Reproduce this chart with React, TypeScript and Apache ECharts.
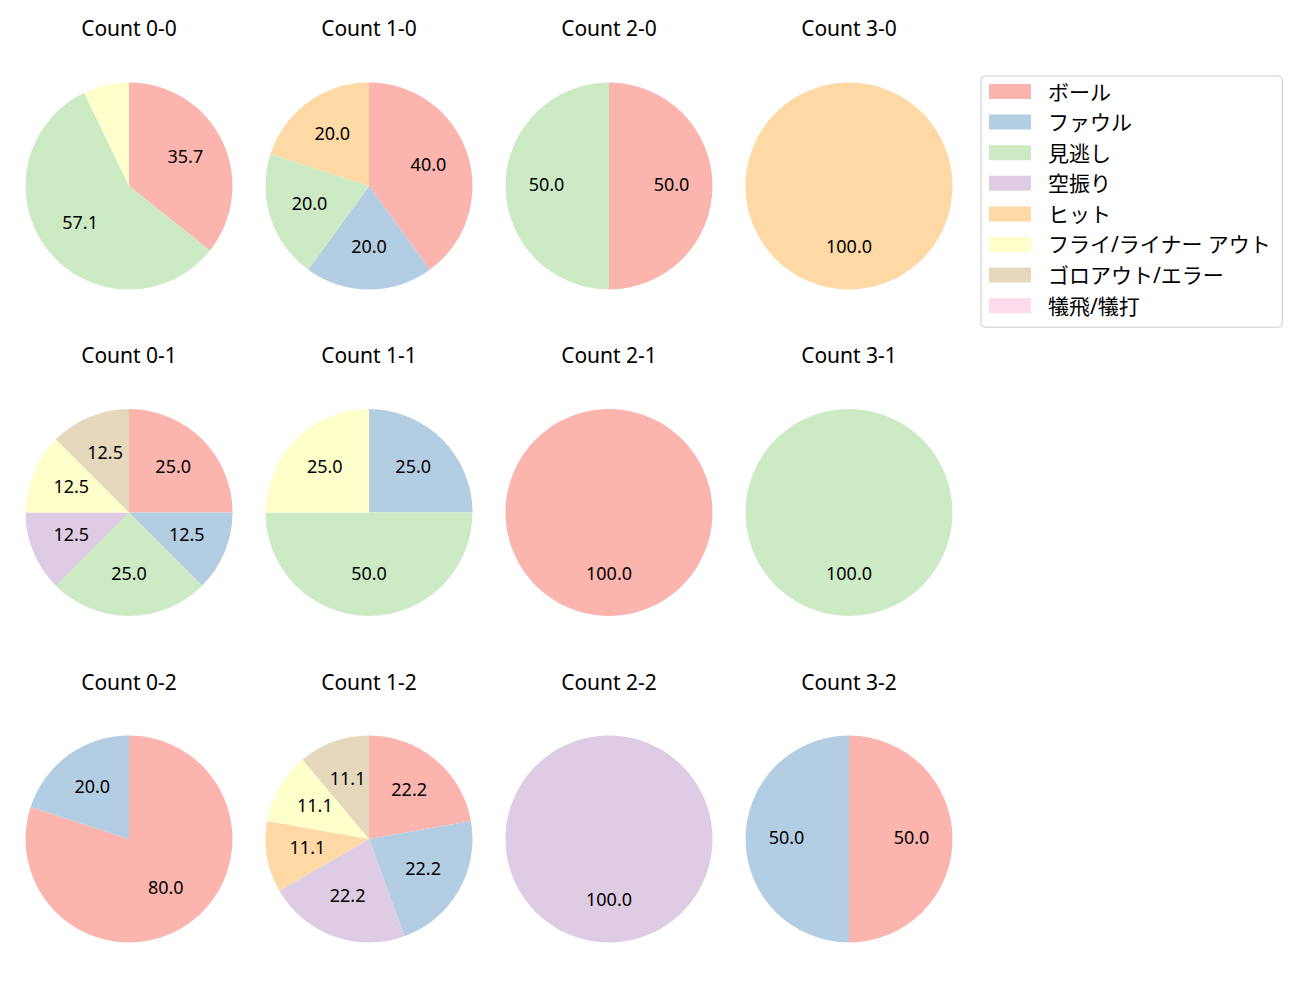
import React, { useEffect, useRef } from "react";
import * as echarts from "echarts";

const categories = [
  "ボール",
  "ファウル",
  "見逃し",
  "空振り",
  "ヒット",
  "フライ/ライナー アウト",
  "ゴロアウト/エラー",
  "犠飛/犠打",
];

const colors = ["#fbb4ae", "#b3cde3", "#ccebc5", "#decbe4", "#fed9a6", "#ffffcc", "#e5d8bd", "#fddaec"];

const titles = [
  "Count 0-0", "Count 1-0", "Count 2-0", "Count 3-0",
  "Count 0-1", "Count 1-1", "Count 2-1", "Count 3-1",
  "Count 0-2", "Count 1-2", "Count 2-2", "Count 3-2",
];

// counts per category (order as categories)
const count00 = [5, 0, 8, 0, 0, 1, 0, 0];
const count10 = [2, 1, 1, 0, 1, 0, 0, 0];
const count20 = [1, 0, 1, 0, 0, 0, 0, 0];
const count30 = [0, 0, 0, 0, 1, 0, 0, 0];
const count01 = [2, 1, 2, 1, 0, 1, 1, 0];
const count11 = [0, 1, 2, 0, 0, 1, 0, 0];
const count21 = [1, 0, 0, 0, 0, 0, 0, 0];
const count31 = [0, 0, 1, 0, 0, 0, 0, 0];
const count02 = [4, 1, 0, 0, 0, 0, 0, 0];
const count12 = [2, 2, 0, 2, 1, 1, 1, 0];
const count22 = [0, 0, 0, 1, 0, 0, 0, 0];
const count32 = [1, 1, 0, 0, 0, 0, 0, 0];

const pies = [
  count00, count10, count20, count30,
  count01, count11, count21, count31,
  count02, count12, count22, count32,
];

const colX = [129, 369, 609, 849];
const rowY = [186, 512.5, 839];
const titleY = [28, 355, 682];
const R = 103.5;
const FONT = "'Noto Sans', 'Noto Sans CJK JP', sans-serif";

export default function App() {
  const ref = useRef<HTMLDivElement>(null);
  useEffect(() => {
    document.body.style.margin = "0";
    const chart = echarts.init(ref.current!, null, { renderer: "svg" });
    const titleOpts: any[] = [];
    const visible: any[] = [];
    const overlay: any[] = [];
    pies.forEach((vals, i) => {
      const c = i % 4;
      const r = Math.floor(i / 4);
      const total = vals.reduce((a, b) => a + b, 0);
      titleOpts.push({
        text: titles[i],
        left: colX[c],
        top: titleY[r] - 11,
        textAlign: "center",
        padding: 0,
        textStyle: { fontSize: 21, fontWeight: "normal", color: "#000", fontFamily: FONT },
      });
      const data = vals.map((v, k) => ({ name: categories[k], value: v, itemStyle: { color: colors[k] } }));
      visible.push({
        type: "pie",
        center: [colX[c], rowY[r]],
        radius: [0, R],
        startAngle: 90,
        clockwise: true,
        silent: true,
        label: { show: false },
        labelLine: { show: false },
        itemStyle: { borderWidth: 0 },
        emphasis: { disabled: true },
        data,
      });
      overlay.push({
        type: "pie",
        center: [colX[c], rowY[r]],
        radius: [0, R * 1.15],
        startAngle: 90,
        clockwise: true,
        silent: true,
        z: 5,
        minShowLabelAngle: 0,
        itemStyle: { color: "transparent", borderWidth: 0 },
        emphasis: { disabled: true },
        labelLine: { show: false },
        label: {
          show: true,
          position: "inside",
          fontSize: 18,
          color: "#000",
          fontFamily: FONT,
          offset: [0, -2.5],
          formatter: (p: any) => {
            const pct = (p.value / total) * 100;
            return pct >= 10 ? pct.toFixed(1) : "";
          },
        },
        data: vals.map((v, k) => ({ name: categories[k], value: v })),
      });
    });
    chart.setOption({
      animation: false,
      backgroundColor: "#fff",
      title: titleOpts,
      legend: {
        orient: "vertical",
        left: 981,
        top: 76,
        data: categories,
        selectedMode: false,
        icon: "rect",
        itemWidth: 42,
        itemHeight: 15,
        itemGap: 9.6,
        padding: [5, 11, 11, 8],
        borderColor: "#cccccc",
        borderWidth: 1,
        borderRadius: 4,
        textStyle: { fontSize: 21, color: "#000", fontFamily: FONT, padding: [0, 0, 0, 12] },
      },
      series: [...visible, ...overlay],
    });
    return () => chart.dispose();
  }, []);
  return <div ref={ref} style={{ width: 1300, height: 1000 }} />;
}
